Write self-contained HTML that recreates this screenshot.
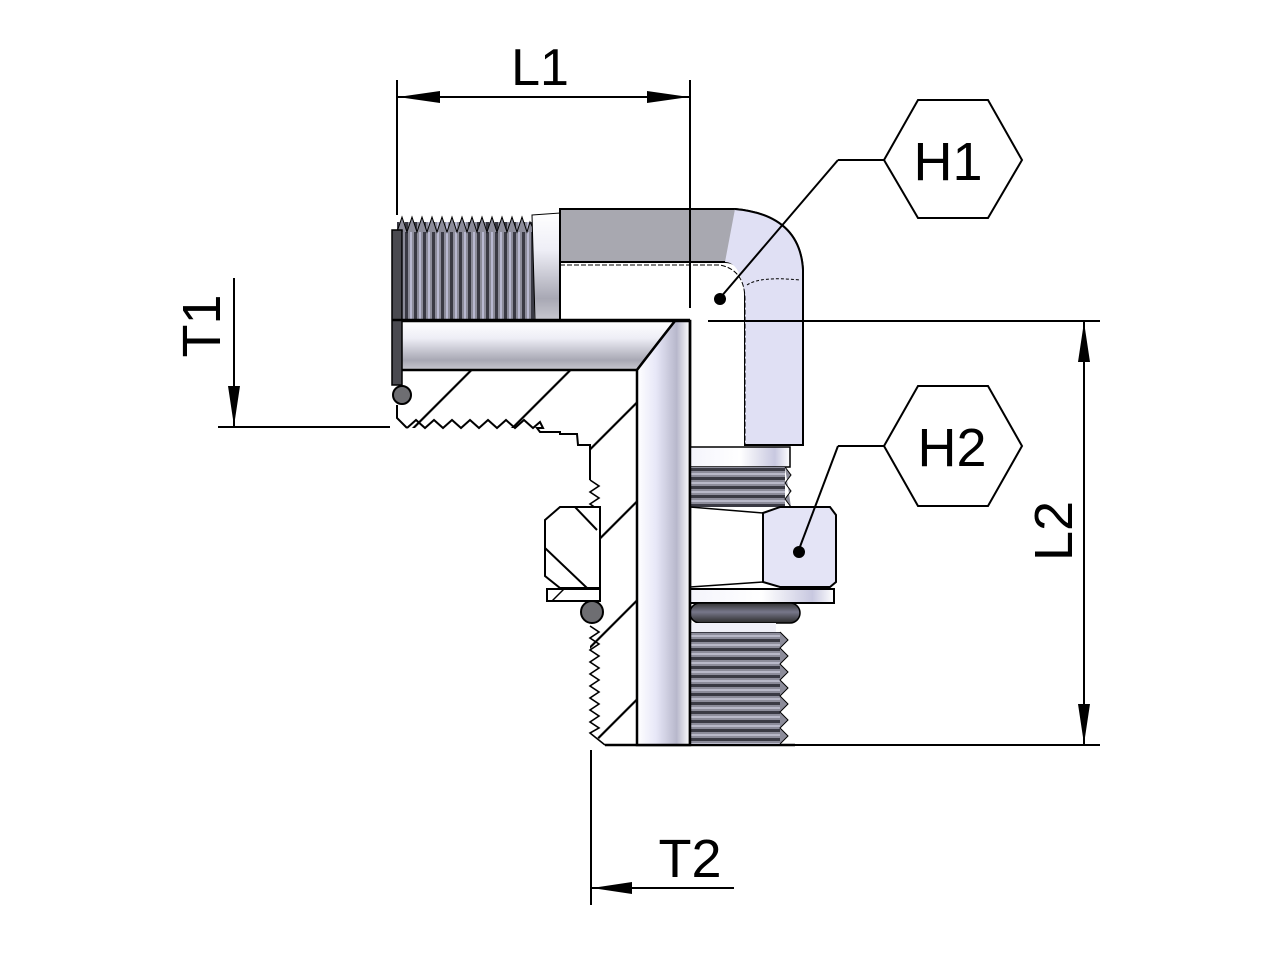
<!DOCTYPE html>
<html><head><meta charset="utf-8"><style>
html,body{margin:0;padding:0;background:#fff;}
svg{display:block;}
text{font-family:"Liberation Sans",sans-serif;fill:#000;}
</style></head><body>
<svg width="1275" height="960" viewBox="0 0 1275 960" xmlns="http://www.w3.org/2000/svg">
<defs>
<linearGradient id="gv" x1="0" y1="0" x2="1" y2="0">
<stop offset="0" stop-color="#ffffff"/><stop offset="0.35" stop-color="#e8e8f8"/><stop offset="0.75" stop-color="#b8b8cc"/><stop offset="1" stop-color="#ffffff"/></linearGradient>
<linearGradient id="gh" x1="0" y1="0" x2="0" y2="1">
<stop offset="0" stop-color="#ffffff"/><stop offset="0.35" stop-color="#eeeef6"/><stop offset="0.8" stop-color="#a8a8b4"/><stop offset="1" stop-color="#c8c8d0"/></linearGradient>
<linearGradient id="ghl" x1="0" y1="0" x2="1" y2="0">
<stop offset="0" stop-color="#f4f4fc"/><stop offset="0.5" stop-color="#ffffff"/><stop offset="0.85" stop-color="#c8c8e0"/><stop offset="1" stop-color="#ffffff"/></linearGradient>
<linearGradient id="gor" x1="0" y1="0" x2="0" y2="1">
<stop offset="0" stop-color="#333"/><stop offset="0.45" stop-color="#77778a"/><stop offset="1" stop-color="#2a2a2a"/></linearGradient>
<pattern id="thv" width="12" height="9" patternUnits="userSpaceOnUse">
<rect width="12" height="9" fill="#8c8c9a"/><rect y="0" width="12" height="3" fill="#3a3a44"/><rect y="5" width="12" height="2" fill="#b8b8c8"/></pattern>
<pattern id="thh" width="9" height="12" patternUnits="userSpaceOnUse">
<rect width="9" height="12" fill="#8c8c9a"/><rect x="0" width="3" height="12" fill="#3a3a44"/><rect x="5" width="2" height="12" fill="#b8b8d0"/></pattern>
<pattern id="hatch" width="70" height="70" patternUnits="userSpaceOnUse" patternTransform="rotate(45)">
<rect width="70" height="70" fill="#fff"/><line x1="35" y1="0" x2="35" y2="70" stroke="#000" stroke-width="2.2"/></pattern>
</defs>

<!-- section (hatched) area -->
<path d="M397,370 L637,370 L637,745 L605,745 L590,730 L590,445 L578,445 L577,434 L560,434 L560,428 L407,428 L397,418 Z" fill="url(#hatch)"/>
<path d="M407,428 l9,-8 l9,8 l9,-8 l9,8 l9,-8 l9,8 l9,-8 l9,8 l9,-8 l9,8 l9,-8 l9,8 l9,-8 l9,8 l7,-6 l3,6 L537,428 L540,432 L560,432 L560,434 L577,434 L578,445 L590,445 L590,480" fill="none" stroke="#000" stroke-width="2"/>
<path d="M397,405 L397,418 L407,428" fill="none" stroke="#000" stroke-width="2"/>
<path d="M590,480 l9,6 l-9,6 l9,6 l-9,6 l9,6 l-9,6 l9,6 l-9,6 l9,6 l-9,6 l9,6 l-9,6 l9,6 l-9,6 l9,6 l-9,6" fill="none" stroke="#000" stroke-width="1.6"/>
<path d="M590,626 l9,6 l-9,6 l9,6 l-9,6 l9,6 l-9,6 l9,6 l-9,6 l9,6 l-9,6 l9,6 l-9,6 l9,6 l-9,6 l9,6 l-9,6 l9,6 l-9,5 L605,745" fill="none" stroke="#000" stroke-width="1.6"/>
<line x1="605" y1="745" x2="795" y2="745" stroke="#000" stroke-width="2.5"/>

<!-- left nut section -->
<path d="M545,520 L560,507 L600,507 L600,588 L560,588 L545,576 Z" fill="#fff" stroke="#000" stroke-width="2"/>
<line x1="575" y1="507" x2="597" y2="530" stroke="#000" stroke-width="2"/>
<line x1="545" y1="548" x2="587" y2="588" stroke="#000" stroke-width="2"/>
<rect x="547" y="589" width="53" height="12" fill="#fff" stroke="#000" stroke-width="2"/>
<line x1="552" y1="601" x2="564" y2="589" stroke="#000" stroke-width="1.5"/>
<circle cx="592" cy="612" r="11" fill="#6e6e72" stroke="#000" stroke-width="2"/>

<!-- horizontal bore -->
<path d="M400,321 L675,321 Q660,340 637,370 L400,370 Z" fill="url(#gh)" stroke="#000" stroke-width="2.5"/>
<path d="M637,370 Q660,340 675,321 L690,321 L690,745 L637,745 Z" fill="url(#gv)" stroke="#000" stroke-width="2.5"/>

<!-- top thread -->
<rect x="397" y="222" width="138" height="98" fill="url(#thh)"/>
<path d="M397,232 l5,-15 l5,15 l5,-15 l5,15 l5,-15 l5,15 l5,-15 l5,15 l5,-15 l5,15 l5,-15 l5,15 l5,-15 l5,15 l5,-15 l5,15 l5,-15 l5,15 l5,-15 l5,15 l5,-15 l5,15 l5,-15 l5,15 l5,-15 l5,15 l3,-10 L535,232" fill="#8c8c9a" stroke="#000" stroke-width="1"/>
<rect x="392" y="230" width="10" height="155" fill="#4a4a50" stroke="#000" stroke-width="1.5"/>
<circle cx="402" cy="395" r="9" fill="#6e6e72" stroke="#000" stroke-width="2"/>
<path d="M532,215 L560,213 L560,320 L535,320 Z" fill="url(#gh)" stroke="#000" stroke-width="1"/>
<line x1="392" y1="320" x2="690" y2="320" stroke="#000" stroke-width="2.5"/>

<!-- elbow -->
<path d="M560,209 L735,209 Q800,215 803,270 L803,445 L745,445 L745,295 Q745,262 725,262 L560,262 Z" fill="#a8a8b0" stroke="#000" stroke-width="2"/>
<path d="M735,209 Q800,215 803,270 L803,445 L745,445 L745,295 Q740,262 725,262 Z" fill="#e0e0f4"/>
<path d="M735,209 Q800,215 803,270 L803,445 L745,445" fill="none" stroke="#000" stroke-width="2"/>
<path d="M560,265 L720,265 Q745,270 745,300 L745,445" fill="none" stroke="#000" stroke-width="1" stroke-dasharray="5,2"/>
<line x1="560" y1="209" x2="560" y2="320" stroke="#000" stroke-width="2"/>
<path d="M747,285 Q760,276 800,280" fill="none" stroke="#000" stroke-width="1" stroke-dasharray="3,2"/>

<!-- right side pieces -->
<rect x="690" y="447" width="100" height="20" fill="url(#ghl)" stroke="#000" stroke-width="1.5"/>
<rect x="690" y="467" width="95" height="40" fill="url(#thv)"/>
<path d="M785,467 l6,8 l-6,8 l6,8 l-6,8 l6,8" fill="#8c8c9a" stroke="#000" stroke-width="1"/>
<path d="M763,513 L780,507 L830,507 L836,515 L836,582 L830,587 L780,587 L763,582 Z" fill="#e4e4f6" stroke="#000" stroke-width="2"/>
<line x1="690" y1="507" x2="763" y2="513" stroke="#000" stroke-width="1.5"/>
<line x1="690" y1="587" x2="763" y2="582" stroke="#000" stroke-width="1.5"/>
<rect x="690" y="589" width="144" height="14" fill="url(#ghl)" stroke="#000" stroke-width="2"/>
<rect x="690" y="603" width="110" height="20" rx="10" fill="url(#gor)" stroke="#000" stroke-width="1.5"/>
<rect x="690" y="623" width="86" height="10" fill="#f0f0f8"/>
<rect x="690" y="632" width="90" height="112" fill="url(#thv)"/>
<path d="M780,632 l8,8 l-8,8 l8,8 l-8,8 l8,8 l-8,8 l8,8 l-8,8 l8,8 l-8,8 l8,8 l-8,8 l8,8 l-8,8" fill="#8c8c9a" stroke="#000" stroke-width="1"/>
<line x1="690" y1="320" x2="690" y2="745" stroke="#000" stroke-width="2.5"/>

<!-- dimension lines -->
<g stroke="#000" stroke-width="2" fill="none">
<line x1="397" y1="80" x2="397" y2="215"/>
<line x1="690" y1="80" x2="690" y2="308"/>
<line x1="397" y1="97" x2="690" y2="97"/>
<line x1="708" y1="321" x2="1100" y2="321"/>
<line x1="795" y1="745" x2="1100" y2="745"/>
<line x1="1084" y1="321" x2="1084" y2="745"/>
<line x1="234" y1="278" x2="234" y2="427"/>
<line x1="218" y1="427" x2="390" y2="427"/>
<line x1="591" y1="750" x2="591" y2="905"/>
<line x1="591" y1="888" x2="734" y2="888"/>
<polyline points="838,160 884,160"/>
<polyline points="838,160 720,298"/>
<polyline points="838,446 884,446"/>
<polyline points="838,446 798,552"/>
<polygon points="884,160 918,100 988,100 1022,160 988,218 918,218"/>
<polygon points="884,446 918,386 988,386 1022,446 988,506 918,506"/>
</g>
<g fill="#000">
<polygon points="398,97 440,91 440,103"/>
<polygon points="689,97 647,91 647,103"/>
<polygon points="1084,322 1078,362 1090,362"/>
<polygon points="1084,744 1078,704 1090,704"/>
<polygon points="234,426 228,386 240,386"/>
<polygon points="592,888 632,882 632,894"/>
<circle cx="720" cy="299" r="6"/>
<circle cx="799" cy="552" r="6"/>
</g>

<text x="540" y="85" font-size="52" text-anchor="middle">L1</text>
<text x="948" y="180" font-size="54" text-anchor="middle">H1</text>
<text x="952" y="466" font-size="54" text-anchor="middle">H2</text>
<text x="690" y="877" font-size="54" text-anchor="middle">T2</text>
<text transform="translate(220,326) rotate(-90)" font-size="54" text-anchor="middle">T1</text>
<text transform="translate(1072,531) rotate(-90)" font-size="54" text-anchor="middle">L2</text>
</svg>
</body></html>
